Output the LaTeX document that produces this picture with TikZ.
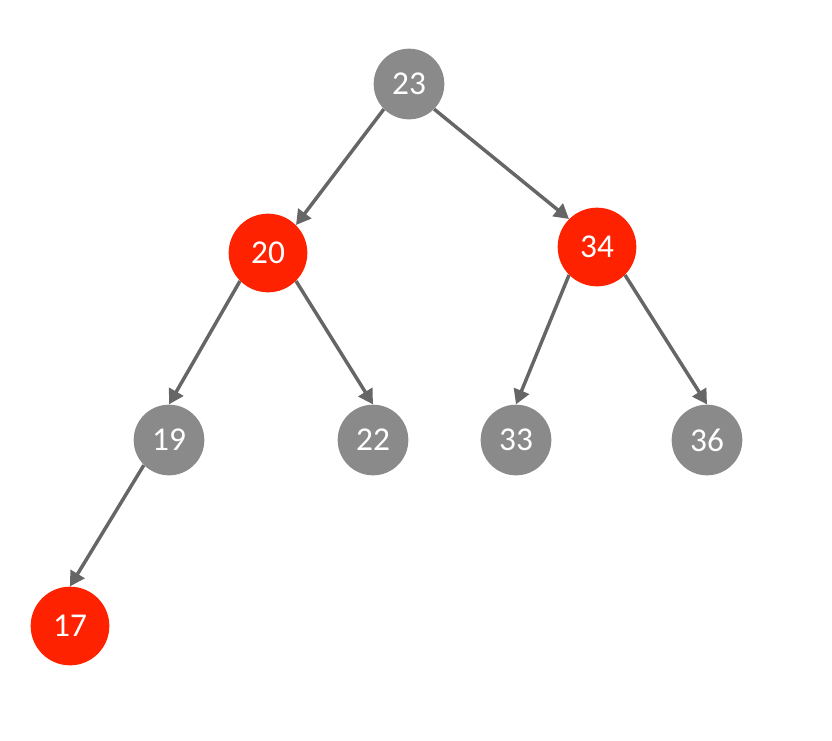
\documentclass[tikz,border=0pt]{standalone}
\usepackage{fontspec}
\setmainfont{Carlito}
\usepackage{tikz}
\usetikzlibrary{arrows.meta}
\definecolor{nodegray}{RGB}{138,138,138}
\definecolor{nodered}{RGB}{255,34,0}
\definecolor{linkgray}{RGB}{102,102,102}

\begin{document}
\begin{tikzpicture}[x=0.75pt,y=-0.75pt,
	graynode/.style={circle, fill=nodegray, text=white, minimum size=53pt, inner sep=0pt, font=\fontsize{25}{25}\selectfont},
	rednode/.style={graynode, fill=nodered, minimum size=59pt},
	treelink/.style={draw=linkgray, line width=2.6pt, -{Triangle[length=11pt,width=12pt]}}]
	\useasboundingbox (0,0) rectangle (832,740);
	% Árbol rojo-negro
	\node[graynode] (n23) at (409,84) {23};
	\node[rednode] (n20) at (268,253) {20};
	\node[rednode] (n34) at (597,247) {34};
	\node[graynode] (n19) at (169,440) {19};
	\node[graynode] (n22) at (373,440) {22};
	\node[graynode] (n33) at (516,440) {33};
	\node[graynode] (n36) at (707,440) {36};
	\node[rednode] (n17) at (70,626) {17};
	\foreach \a/\b in {n23.south west/n20.north east, n23.south east/n34.north west,
		n20.south west/n19.north, n20.south east/n22.north,
		n34.south west/n33.north, n34.south east/n36.north,
		n19.south west/n17.north} {
		\draw[treelink] (\a) -- (\b);
	}
\end{tikzpicture}
\end{document}
